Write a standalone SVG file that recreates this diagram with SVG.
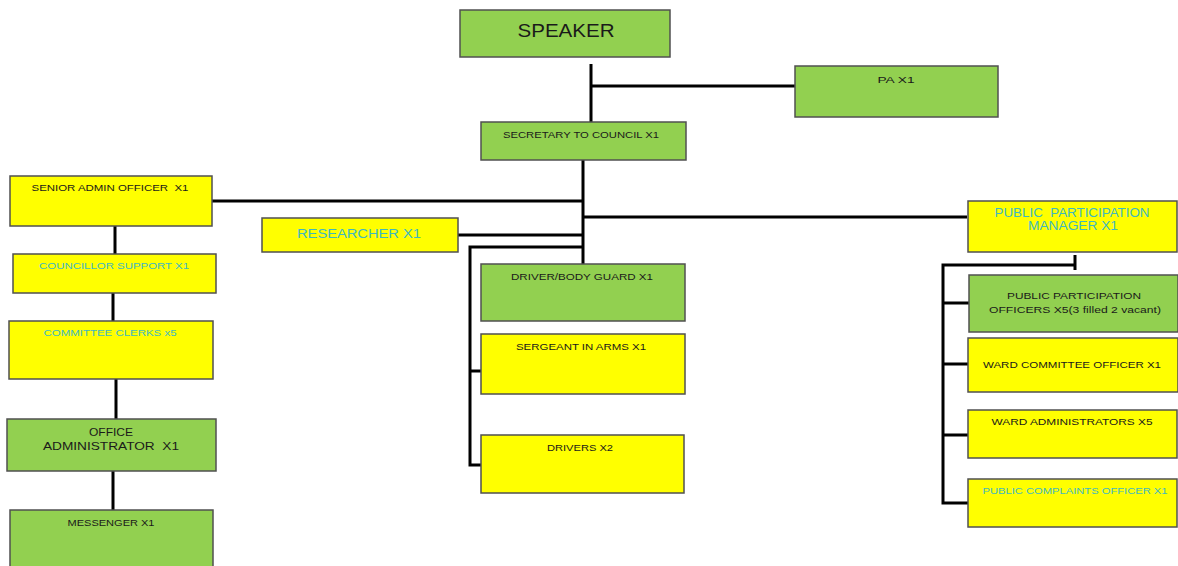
<svg xmlns="http://www.w3.org/2000/svg" width="1178" height="566" viewBox="0 0 1178 566">
<style>
.g{fill:#92d050;stroke:#505050;stroke-width:1.5}
.y{fill:#ffff00;stroke:#505050;stroke-width:1.5}
text{font-family:"Liberation Sans",Arial,sans-serif;text-anchor:middle;fill:#1a1a1a;font-size:9px;white-space:pre}
.c{fill:#3fb8c0}
.big{font-size:18px}
.mid{font-size:12px}
.oa{font-size:11px}
.l{fill:none;stroke:#000;stroke-width:3}
</style>
<rect width="1178" height="566" fill="#fff"/>
<g id="connectors">
<path class="l" d="M591 64V122M591 86H795"/>
<path class="l" d="M583 160V265M212 201H583M583 217H967M457 235H583M583 247H470V465H481M470 371H481"/>
<path class="l" d="M115 226V254M113 293V321M116 379V419M113 471V510"/>
<path class="l" d="M1075 255V270M1075 265H943V503H968M943 303H969M943 364H968M943 435H968"/>
</g>
<g id="speaker"><rect class="g" x="460" y="10" width="210" height="47"/><text class="big" x="566" y="37" textLength="97" lengthAdjust="spacingAndGlyphs">SPEAKER</text></g>
<g id="pa"><rect class="g" x="795" y="66" width="203" height="51"/><text x="896" y="83" textLength="37" lengthAdjust="spacingAndGlyphs">PA X1</text></g>
<g id="secretary"><rect class="g" x="481" y="122" width="205" height="38"/><text x="581" y="138" textLength="156" lengthAdjust="spacingAndGlyphs">SECRETARY TO COUNCIL X1</text></g>
<g id="senior-admin"><rect class="y" x="10" y="176" width="202" height="50"/><text x="110" y="191" textLength="157" lengthAdjust="spacingAndGlyphs">SENIOR ADMIN OFFICER  X1</text></g>
<g id="councillor-support"><rect class="y" x="13" y="254" width="203" height="39"/><text class="c" x="114" y="269" textLength="150" lengthAdjust="spacingAndGlyphs">COUNCILLOR SUPPORT X1</text></g>
<g id="committee-clerks"><rect class="y" x="9" y="321" width="204" height="58"/><text class="c" x="110" y="336" textLength="133" lengthAdjust="spacingAndGlyphs">COMMITTEE CLERKS x5</text></g>
<g id="office-admin"><rect class="g" x="7" y="419" width="209" height="52"/><text class="oa" x="111" y="436" textLength="44" lengthAdjust="spacingAndGlyphs">OFFICE</text><text class="oa" x="111" y="450" textLength="136" lengthAdjust="spacingAndGlyphs">ADMINISTRATOR  X1</text></g>
<g id="messenger"><rect class="g" x="10" y="510" width="203" height="60"/><text x="111" y="526" textLength="87" lengthAdjust="spacingAndGlyphs">MESSENGER X1</text></g>
<g id="researcher"><rect class="y" x="262" y="218" width="196" height="34"/><text class="c mid" x="359" y="238" textLength="124" lengthAdjust="spacingAndGlyphs">RESEARCHER X1</text></g>
<g id="driver-bodyguard"><rect class="g" x="481" y="264" width="204" height="57"/><text x="582" y="280" textLength="142" lengthAdjust="spacingAndGlyphs">DRIVER/BODY GUARD X1</text></g>
<g id="sergeant"><rect class="y" x="481" y="334" width="204" height="60"/><text x="581" y="350" textLength="130" lengthAdjust="spacingAndGlyphs">SERGEANT IN ARMS X1</text></g>
<g id="drivers"><rect class="y" x="481" y="435" width="203" height="58"/><text x="580" y="451" textLength="66" lengthAdjust="spacingAndGlyphs">DRIVERS X2</text></g>
<g id="pp-manager"><rect class="y" x="968" y="201" width="209" height="51"/><text class="c mid" x="1072" y="217" textLength="155" lengthAdjust="spacingAndGlyphs">PUBLIC  PARTICIPATION</text><text class="c mid" x="1073" y="230" textLength="90" lengthAdjust="spacingAndGlyphs">MANAGER X1</text></g>
<g id="pp-officers"><rect class="g" x="969" y="275" width="209" height="57"/><text x="1074" y="299" textLength="134" lengthAdjust="spacingAndGlyphs">PUBLIC PARTICIPATION</text><text x="1075" y="313" textLength="172" lengthAdjust="spacingAndGlyphs">OFFICERS X5(3 filled 2 vacant)</text></g>
<g id="ward-committee"><rect class="y" x="968" y="338" width="210" height="54"/><text x="1072" y="368" textLength="178" lengthAdjust="spacingAndGlyphs">WARD COMMITTEE OFFICER X1</text></g>
<g id="ward-admins"><rect class="y" x="968" y="410" width="209" height="48"/><text x="1072" y="425" textLength="161" lengthAdjust="spacingAndGlyphs">WARD ADMINISTRATORS X5</text></g>
<g id="complaints"><rect class="y" x="968" y="479" width="209" height="48"/><text class="c" x="1075" y="494" textLength="185" lengthAdjust="spacingAndGlyphs">PUBLIC COMPLAINTS OFFICER X1</text></g>
</svg>
